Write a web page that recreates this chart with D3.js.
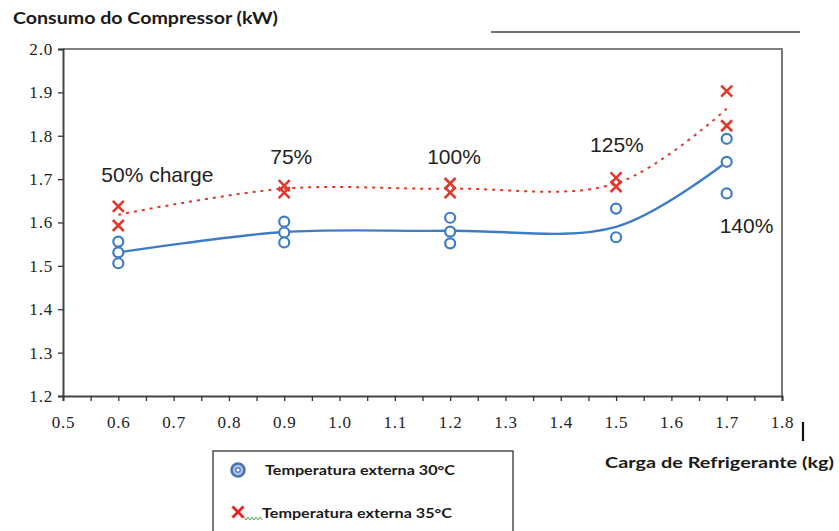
<!DOCTYPE html>
<html><head><meta charset="utf-8">
<script src="https://cdn.jsdelivr.net/npm/d3@7"></script>
<style>body{margin:0;background:#fff}svg{display:block}</style>
</head><body>
<svg id="c" width="839" height="531"></svg>
<script>
// ---- data ----
const xTickLabels = ["0.5","0.6","0.7","0.8","0.9","1.0","1.1","1.2","1.3","1.4","1.5","1.6","1.7","1.8"];
const yTickLabels = ["1.2","1.3","1.4","1.5","1.6","1.7","1.8","1.9","2.0"];
const charge = [0.6, 0.9, 1.2, 1.5, 1.7];
const chargeLabels = ["50% charge", "75%", "100%", "125%", "140%"];
const t30X = [0.6,0.6,0.6, 0.9,0.9,0.9, 1.2,1.2,1.2, 1.5,1.5, 1.7,1.7,1.7];
const t30Y = [1.556,1.531,1.506, 1.602,1.577,1.554, 1.611,1.579,1.552, 1.632,1.566, 1.793,1.740,1.667];
const t35X = [0.6,0.6, 0.9,0.9, 1.2,1.2, 1.5,1.5, 1.7,1.7];
const t35Y = [1.637,1.593, 1.685,1.669, 1.690,1.669, 1.703,1.683, 1.903,1.823];
const fit30 = [1.531, 1.578, 1.581, 1.590, 1.740];
const fit35 = [1.618, 1.678, 1.678, 1.690, 1.862];
const legendLabels = ["Temperatura externa 30°C", "Temperatura externa 35°C"];
const titleText = "Consumo do Compressor (kW)";
const xTitle = "Carga de Refrigerante (kg)";

// ---- layout ----
const svg = d3.select("#c");
const L = 63, R = 782, T = 49, B = 396;
const x = d3.scaleLinear().domain([0.5, 1.8]).range([L, R]);
const y = d3.scaleLinear().domain([1.2, 2.0]).range([B, T]);
const blue = "#3f7cc8", red = "#e0392b";

// title
svg.append("text").attr("x", 13).attr("y", 24).text(titleText)
  .attr("font-family", "Lato, 'Open Sans', sans-serif").attr("font-weight", "bold")
  .attr("font-size", 17).attr("fill", "#1a1a1a")
  .attr("textLength", 265).attr("lengthAdjust", "spacingAndGlyphs");

// top decorative line
svg.append("line").attr("x1", 491).attr("x2", 800).attr("y1", 32).attr("y2", 32)
  .attr("stroke", "#444").attr("stroke-width", 1.5);

// frame top & right
svg.append("path").attr("d", `M${L},${T}H${R}V${B}`).attr("fill", "none")
  .attr("stroke", "#555").attr("stroke-width", 1.6);

// y axis
const yAxis = d3.axisLeft(y).tickValues(yTickLabels.map(Number))
  .tickFormat((d, i) => yTickLabels[i]).tickSize(5).tickPadding(5);
const gy = svg.append("g").attr("transform", `translate(${L},0)`).call(yAxis);
gy.select(".domain").attr("stroke", "#444").attr("stroke-width", 2);
gy.selectAll(".tick line").attr("stroke", "#333").attr("stroke-width", 1.3);
gy.selectAll(".tick text").attr("font-family", "'Liberation Serif', 'Times New Roman', serif")
  .attr("font-size", 17).attr("fill", "#222").attr("letter-spacing", 0.8);

// x axis
const minor = d3.range(0, 27).map(i => 0.5 + i * 0.05);
const xAxisMinor = d3.axisBottom(x).tickValues(minor).tickFormat("").tickSize(5);
const gx = svg.append("g").attr("transform", `translate(0,${B})`).call(xAxisMinor);
gx.select(".domain").attr("stroke", "#444").attr("stroke-width", 2);
gx.selectAll(".tick line").attr("stroke", "#333").attr("stroke-width", 1.3);
const xAxisLab = d3.axisBottom(x).tickValues(xTickLabels.map(Number))
  .tickFormat((d, i) => xTickLabels[i]).tickSize(0).tickPadding(20);
const gx2 = svg.append("g").attr("transform", `translate(0,${B})`).call(xAxisLab);
gx2.select(".domain").remove();
gx2.selectAll(".tick text").attr("font-family", "'Liberation Serif', 'Times New Roman', serif")
  .attr("font-size", 17).attr("fill", "#222").attr("letter-spacing", 0.8);

// small vertical bar after 1.8
svg.append("line").attr("x1", 803).attr("x2", 803).attr("y1", 422).attr("y2", 441)
  .attr("stroke", "#111").attr("stroke-width", 2.2);

// x title
svg.append("text").attr("x", 605).attr("y", 468).text(xTitle)
  .attr("font-family", "Lato, 'Open Sans', sans-serif").attr("font-weight", "bold")
  .attr("font-size", 16).attr("fill", "#1a1a1a")
  .attr("textLength", 229).attr("lengthAdjust", "spacingAndGlyphs");

// fitted curves
const lineGen = d3.line().x(d => x(d[0])).y(d => y(d[1])).curve(d3.curveCatmullRom.alpha(0.5));
svg.append("path").attr("d", lineGen(charge.map((c, i) => [c, fit35[i]])))
  .attr("fill", "none").attr("stroke", red).attr("stroke-width", 2)
  .attr("stroke-dasharray", "3,5");
svg.append("path").attr("d", lineGen(charge.map((c, i) => [c, fit30[i]])))
  .attr("fill", "none").attr("stroke", blue).attr("stroke-width", 2.4);

// markers 30°C
svg.append("g").selectAll("circle").data(t30X.map((v, i) => [v, t30Y[i]])).join("circle")
  .attr("cx", d => x(d[0])).attr("cy", d => y(d[1])).attr("r", 5)
  .attr("fill", "#fff").attr("stroke", blue).attr("stroke-width", 2.2);

// markers 35°C
const xs = 5.5;
const crossPath = (cx, cy) => `M${cx - xs},${cy - xs}L${cx + xs},${cy + xs}M${cx - xs},${cy + xs}L${cx + xs},${cy - xs}`;
svg.append("g").selectAll("path").data(t35X.map((v, i) => [v, t35Y[i]])).join("path")
  .attr("d", d => crossPath(x(d[0]), y(d[1])))
  .attr("stroke", red).attr("stroke-width", 2.6).attr("fill", "none");

// charge labels
const labOff = [[-17, 182], [-14, 164], [-23, 164], [-26, 152], [-7, 233]];
svg.append("g").selectAll("text").data(chargeLabels).join("text")
  .attr("x", (d, i) => x(charge[i]) + labOff[i][0]).attr("y", (d, i) => labOff[i][1])
  .text(d => d).attr("font-family", "'Liberation Sans', Arial, sans-serif")
  .attr("font-size", 21).attr("fill", "#222");

// legend
svg.append("rect").attr("x", 213).attr("y", 451).attr("width", 300).attr("height", 90)
  .attr("fill", "#fff").attr("stroke", "#333").attr("stroke-width", 1.3);
svg.append("circle").attr("cx", 238).attr("cy", 470).attr("r", 6.5)
  .attr("fill", "#a9c1e4").attr("stroke", "#4a72b0").attr("stroke-width", 2.5);
svg.append("circle").attr("cx", 238).attr("cy", 470).attr("r", 2.2)
  .attr("fill", "#fff").attr("stroke", "#4a72b0").attr("stroke-width", 1.2);
svg.append("path").attr("d", crossPath(238, 512)).attr("stroke", "#ee1c1c")
  .attr("stroke-width", 2.8).attr("fill", "none");
svg.append("path").attr("d", "M244,517l2,3l2,-3l2,3l2,-3l2,3l2,-3l2,3l2,-3l2,3")
  .attr("fill", "none").attr("stroke", "#3aa43a").attr("stroke-width", 0.9);
svg.append("g").selectAll("text").data(legendLabels).join("text")
  .attr("x", (d, i) => i === 0 ? 265 : 262).attr("y", (d, i) => i === 0 ? 475 : 518)
  .text(d => d).attr("font-family", "Lato, 'Open Sans', sans-serif").attr("font-weight", "bold")
  .attr("font-size", 14).attr("fill", "#1a1a1a")
  .attr("textLength", 190).attr("lengthAdjust", "spacingAndGlyphs");
</script>
</body></html>
